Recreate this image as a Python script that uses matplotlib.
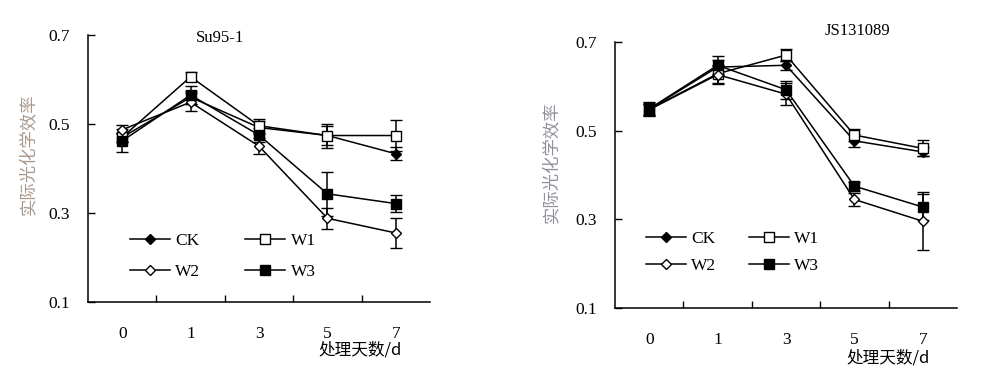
import matplotlib
matplotlib.use("Agg")
import matplotlib.pyplot as plt
from matplotlib.lines import Line2D

# ---- data ----
days = ["0", "1", "3", "5", "7"]
series = ["CK", "W1", "W2", "W3"]

# Su95-1
su_ck = [0.470, 0.560, 0.492, 0.474, 0.433]
su_w1 = [0.470, 0.606, 0.496, 0.474, 0.474]
su_w2 = [0.487, 0.549, 0.450, 0.288, 0.255]
su_w3 = [0.462, 0.565, 0.475, 0.343, 0.321]
su_ck_err = [0.010, 0.015, 0.015, 0.022, 0.015]
su_w1_err = [0.010, 0.010, 0.016, 0.027, 0.035]
su_w2_err = [0.010, 0.020, 0.018, 0.023, 0.033]
su_w3_err = [0.026, 0.020, 0.015, 0.050, 0.020]

# JS131089
js_ck = [0.548, 0.643, 0.647, 0.477, 0.452]
js_w1 = [0.548, 0.628, 0.670, 0.490, 0.460]
js_w2 = [0.547, 0.626, 0.582, 0.345, 0.296]
js_w3 = [0.549, 0.647, 0.592, 0.375, 0.328]
js_ck_err = [0.012, 0.015, 0.010, 0.015, 0.010]
js_w1_err = [0.015, 0.020, 0.014, 0.013, 0.018]
js_w2_err = [0.012, 0.020, 0.025, 0.014, 0.065]
js_w3_err = [0.015, 0.022, 0.020, 0.010, 0.030]

yticks = [0.1, 0.3, 0.5, 0.7]

# ---- style ----
serif = ["Liberation Serif", "Noto Sans CJK SC"]
cjk = ["Noto Sans CJK SC", "DejaVu Sans"]
plt.rcParams["font.family"] = serif

styles = {
    "CK": dict(marker="D", markersize=5.5, mfc="black", mec="black"),
    "W1": dict(marker="s", markersize=7.5, mfc="white", mec="black"),
    "W2": dict(marker="D", markersize=5.5, mfc="white", mec="black"),
    "W3": dict(marker="s", markersize=7.5, mfc="black", mec="black"),
}

fig = plt.figure(figsize=(10, 3.76), dpi=100)


def draw_panel(ax, vals, errs, title, title_xy, legend_anchor, colspace, rowspace):
    x = list(range(len(days)))
    for name, v, e in zip(series, vals, errs):
        ax.errorbar(x, v, yerr=e, color="black", lw=1.1, capsize=4,
                    elinewidth=1.1, capthick=1.1, mew=1.0, **styles[name])
    ax.set_xlim(-0.5, 4.5)
    ax.set_ylim(0.1, 0.7)
    ax.set_yticks(yticks)
    ax.set_yticklabels([f"{t:.1f}" for t in yticks])
    ax.set_xticks(x)
    ax.set_xticklabels(days)
    ax.set_xticks([0.5, 1.5, 2.5, 3.5], minor=True)
    ax.tick_params(axis="x", which="major", length=0, pad=17, labelsize=12.5)
    ax.tick_params(axis="x", which="minor", direction="in", length=5, width=1)
    ax.tick_params(axis="y", direction="in", length=5, width=1, pad=13, labelsize=12.5)
    for s in ["top", "right"]:
        ax.spines[s].set_visible(False)
    for s in ["left", "bottom"]:
        ax.spines[s].set_linewidth(1.1)
    ax.text(title_xy[0], title_xy[1], title, transform=ax.transAxes,
            ha="center", va="center", fontsize=12)
    order = ["CK", "W2", "W1", "W3"]
    proxies = [Line2D([], [], color="black", lw=1.1, mew=1.0, **styles[n]) for n in order]
    ax.legend(proxies, order, ncol=2, frameon=False,
              loc="upper left", bbox_to_anchor=legend_anchor, fontsize=12.5,
              handlelength=2.3, handletextpad=0.3, columnspacing=colspace,
              labelspacing=rowspace, borderaxespad=0, borderpad=0)


ax1 = fig.add_axes([0.088, 0.197, 0.342, 0.710])
draw_panel(ax1, [su_ck, su_w1, su_w2, su_w3],
           [su_ck_err, su_w1_err, su_w2_err, su_w3_err],
           "Su95-1", (0.386, 0.99), (0.123, 0.259), 2.6, 0.85)

ax2 = fig.add_axes([0.615, 0.180, 0.342, 0.709])
draw_panel(ax2, [js_ck, js_w1, js_w2, js_w3],
           [js_ck_err, js_w1_err, js_w2_err, js_w3_err],
           "JS131089", (0.71, 1.04), (0.09, 0.289), 1.9, 0.6)

# axis titles
fig.text(0.028, 1 - 154 / 376, "实际光化学效率", rotation=90, ha="center",
         va="center", fontsize=12.5, color="#a8978a", family=cjk)
fig.text(0.551, 1 - 162 / 376, "实际光化学效率", rotation=90, ha="center",
         va="center", fontsize=12.5, color="#8e909c", family=cjk)
fig.text(0.402, 1 - 350 / 376, "处理天数/d", ha="right", va="center",
         fontsize=12, family=cjk)
fig.text(0.930, 1 - 358 / 376, "处理天数/d", ha="right", va="center",
         fontsize=12, family=cjk)

fig.savefig("out.png", dpi=100)
